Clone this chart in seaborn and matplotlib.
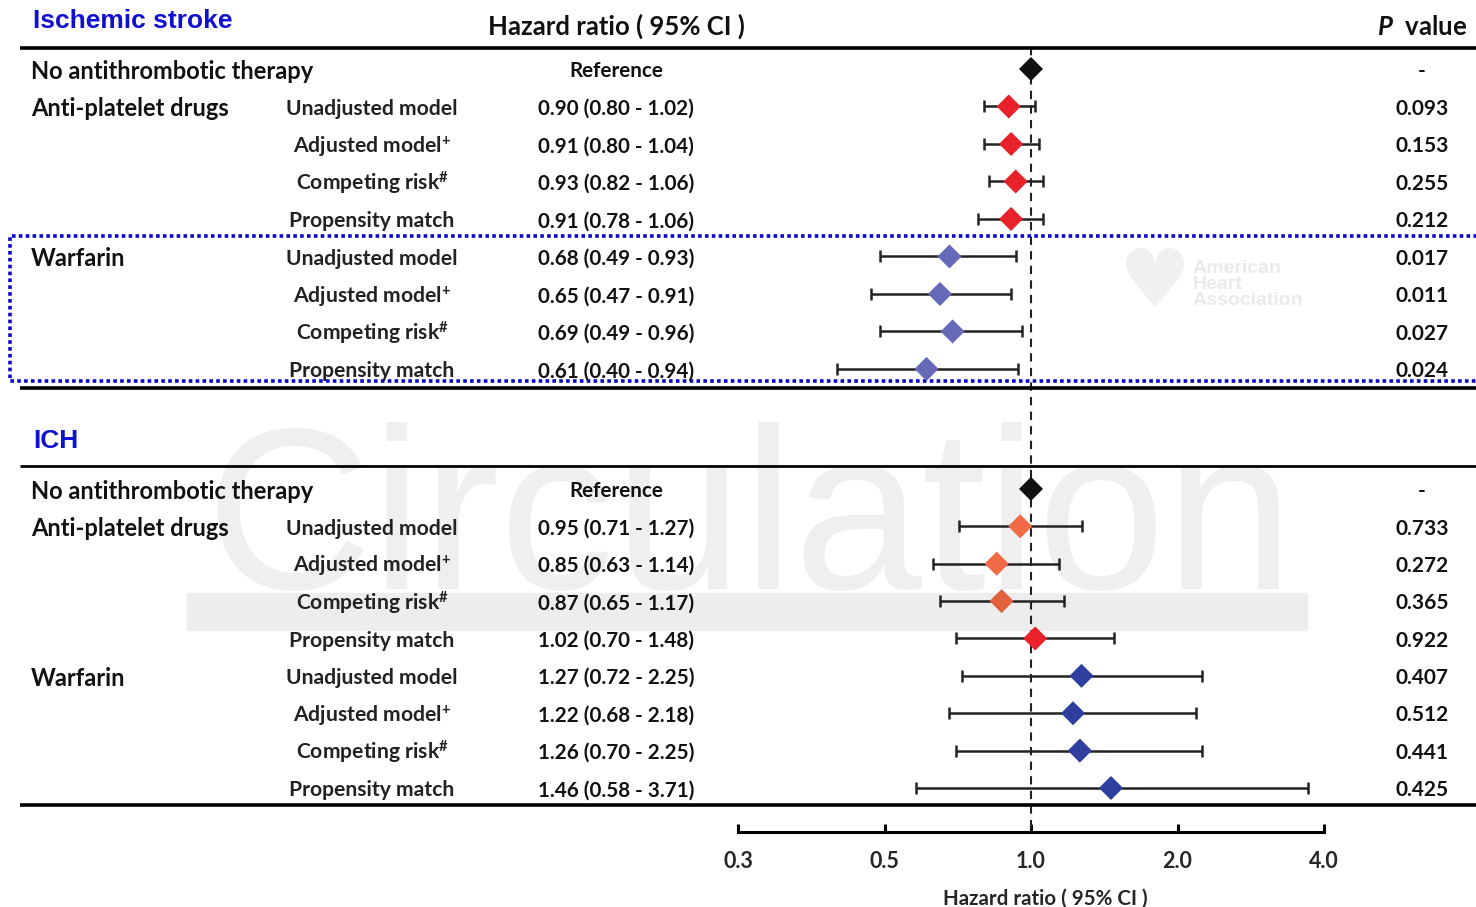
import numpy as np
import pandas as pd
import matplotlib
matplotlib.use("Agg")
import matplotlib.pyplot as plt
import seaborn as sns
from matplotlib.transforms import blended_transform_factory
from matplotlib.ticker import FixedLocator, FixedFormatter, NullLocator
from matplotlib.patches import Rectangle

# ---- data ----
group_labels = ["No antithrombotic therapy", "Anti-platelet drugs", "", "", "",
                "Warfarin", "", "", ""]
model_labels = ["", "Unadjusted model", r"Adjusted model$^{+}$", r"Competing risk$^{\#}$",
                "Propensity match", "Unadjusted model", r"Adjusted model$^{+}$",
                r"Competing risk$^{\#}$", "Propensity match"]

is_hr = [1.00, 0.90, 0.91, 0.93, 0.91, 0.68, 0.65, 0.69, 0.61]
is_lo = [np.nan, 0.80, 0.80, 0.82, 0.78, 0.49, 0.47, 0.49, 0.40]
is_hi = [np.nan, 1.02, 1.04, 1.06, 1.06, 0.93, 0.91, 0.96, 0.94]
is_p = ["-", "0.093", "0.153", "0.255", "0.212", "0.017", "0.011", "0.027", "0.024"]
is_kind = ["ref", "ap", "ap", "ap", "ap", "wf", "wf", "wf", "wf"]

ich_hr = [1.00, 0.95, 0.85, 0.87, 1.02, 1.27, 1.22, 1.26, 1.46]
ich_lo = [np.nan, 0.71, 0.63, 0.65, 0.70, 0.72, 0.68, 0.70, 0.58]
ich_hi = [np.nan, 1.27, 1.14, 1.17, 1.48, 2.25, 2.18, 2.25, 3.71]
ich_p = ["-", "0.733", "0.272", "0.365", "0.922", "0.407", "0.512", "0.441", "0.425"]
ich_kind = ["ref", "ap_ich", "ap_ich", "ap_ich2", "ap", "wf_ich", "wf_ich", "wf_ich", "wf_ich"]

tick_values = [0.25, 0.5, 1.0, 2.0, 4.0]
tick_labels = ["0.3", "0.5", "1.0", "2.0", "4.0"]

palette = {"ref": "#111111", "ap": "#E8212B", "wf": "#6668B8",
           "ap_ich": "#F06A45", "ap_ich2": "#E2623F", "wf_ich": "#2F3F9F"}

# ---- table ----
top_rows = np.arange(9)
bot_rows = 11.2 + np.arange(9) * 0.997
df = pd.concat([
    pd.DataFrame({"row": top_rows, "hr": is_hr, "lo": is_lo, "hi": is_hi, "kind": is_kind}),
    pd.DataFrame({"row": bot_rows, "hr": ich_hr, "lo": ich_lo, "hi": ich_hi, "kind": ich_kind}),
], ignore_index=True)

sns.set_theme(style="white")
plt.rcParams["font.family"] = ["Lato", "DejaVu Sans"]
plt.rcParams["mathtext.fontset"] = "custom"
plt.rcParams["mathtext.rm"] = "Lato:bold"
plt.rcParams["mathtext.it"] = "Lato:italic:bold"
plt.rcParams["mathtext.bf"] = "Lato:bold"

W, H = 1476, 907
fig = plt.figure(figsize=(W / 100, H / 100), dpi=100)
# forest panel: x from 738 px to 1324 px, axis line at y = 832 px
ax = fig.add_axes([738 / W, 1 - 832 / H, (1324 - 738) / W, 832 / H])
ax.set_xscale("log", base=2)
ax.set_xlim(0.25, 4)
ax.set_ylim(20.35, -1.84)

T = blended_transform_factory(fig.transFigure, ax.transData)
fx = lambda px: px / W
dy = 0.06  # text nudge so glyphs sit on the row centre

# watermark
ax.add_patch(Rectangle((fx(187), 13.97), fx(1307) - fx(187), 0.99, transform=T,
                       color="#EDEDED", zorder=0, clip_on=False))
ax.text(fx(205), 13.86, "Circulation", transform=T, ha="left", va="baseline",
        fontsize=166, color="#EFEFEF", family="Liberation Sans", zorder=0)
ax.text(fx(1155), 5.75, "\u2665", transform=T, ha="center", va="center",
        fontsize=58, color="#F0F0F0", family="DejaVu Sans", zorder=0)
ax.text(fx(1193), 5.75, "American\nHeart\nAssociation", transform=T, ha="left", va="center",
        fontsize=14, color="#EAEAEA", fontweight="bold", family="Liberation Sans",
        linespacing=0.9, zorder=0)

# reference line
ax.vlines(1.0, -0.59, 20.35, colors="#222222", linestyles=(0, (4, 3)), linewidth=1.5,
          zorder=1, clip_on=False)

# CI bars and diamonds
ci = df.dropna()
ax.errorbar(ci["hr"], ci["row"], xerr=[ci["hr"] - ci["lo"], ci["hi"] - ci["hr"]],
            fmt="none", ecolor="#222222", elinewidth=1.8, capsize=4, capthick=1.8, zorder=2)
sns.scatterplot(data=df, x="hr", y="row", hue="kind", palette=palette, marker="D",
                s=150, edgecolor="none", legend=False, ax=ax, zorder=4)

# horizontal rules
for y, lw in [(-0.57, 2.6), (8.51, 2.6), (10.59, 2.0), (19.63, 2.6)]:
    ax.plot([fx(20), 1.0], [y, y], transform=T, color="black", lw=lw, clip_on=False,
            solid_capstyle="butt", zorder=3)
# blue dotted box around the warfarin rows
ax.plot([fx(1490), fx(10), fx(10), fx(1490)], [4.45, 4.45, 8.33, 8.33], transform=T,
        color="#0A0ACF", lw=2.6, linestyle=(0, (1, 0.9)), clip_on=False, zorder=3)

# headers
ax.text(fx(33), -1.27, "Ischemic stroke", transform=T, ha="left", va="center",
        fontsize=19, fontweight="bold", color="#1010D0", family="Liberation Sans")
ax.text(fx(33), 9.93, "ICH", transform=T, ha="left", va="center",
        fontsize=19, fontweight="bold", color="#1010D0", family="Liberation Sans")
ax.text(fx(616), -1.13, "Hazard ratio ( 95% CI )", transform=T, ha="center", va="center",
        fontsize=18.5, fontweight="bold", color="#111111")
ax.text(fx(1467), -1.13, r"$P$  value", transform=T, ha="right", va="center",
        fontsize=18.5, fontweight="bold", color="#111111")

# table text
for rows, hrs, los, his, ps in [(top_rows, is_hr, is_lo, is_hi, is_p),
                                (bot_rows, ich_hr, ich_lo, ich_hi, ich_p)]:
    for i, r in enumerate(rows):
        if group_labels[i]:
            ax.text(fx(31), r + dy, group_labels[i], transform=T, ha="left", va="center",
                    fontsize=17, fontweight="bold", color="#111111")
        if model_labels[i]:
            ax.text(fx(372), r + dy, model_labels[i], transform=T, ha="center", va="center",
                    fontsize=15.2, fontweight="bold", color="#222222")
        hr_txt = "Reference" if np.isnan(los[i]) else f"{hrs[i]:.2f} ({los[i]:.2f} - {his[i]:.2f})"
        ax.text(fx(616), r + dy, hr_txt, transform=T, ha="center", va="center",
                fontsize=14.9, fontweight="bold", color="#111111")
        ax.text(fx(1422), r + dy, ps[i], transform=T, ha="center", va="center",
                fontsize=15, fontweight="bold", color="#111111")

# x axis
for s in ["top", "left", "right"]:
    ax.spines[s].set_visible(False)
ax.spines["bottom"].set_linewidth(2.2)
ax.spines["bottom"].set_color("black")
ax.xaxis.set_major_locator(FixedLocator(tick_values))
ax.xaxis.set_major_formatter(FixedFormatter(tick_labels))
ax.xaxis.set_minor_locator(NullLocator())
ax.yaxis.set_major_locator(NullLocator())
ax.tick_params(axis="x", direction="in", length=6, width=2.2, color="black", pad=14,
               labelsize=15.5, bottom=True)
for lab in ax.get_xticklabels():
    lab.set_fontweight("bold")
ax.set_xlabel("Hazard ratio ( 95% CI )", fontsize=14.8, fontweight="bold")
ax.xaxis.set_label_coords(0.524, -0.068)
ax.set_ylabel("")
ax.patch.set_alpha(0)

fig.savefig("out.png", dpi=100)
